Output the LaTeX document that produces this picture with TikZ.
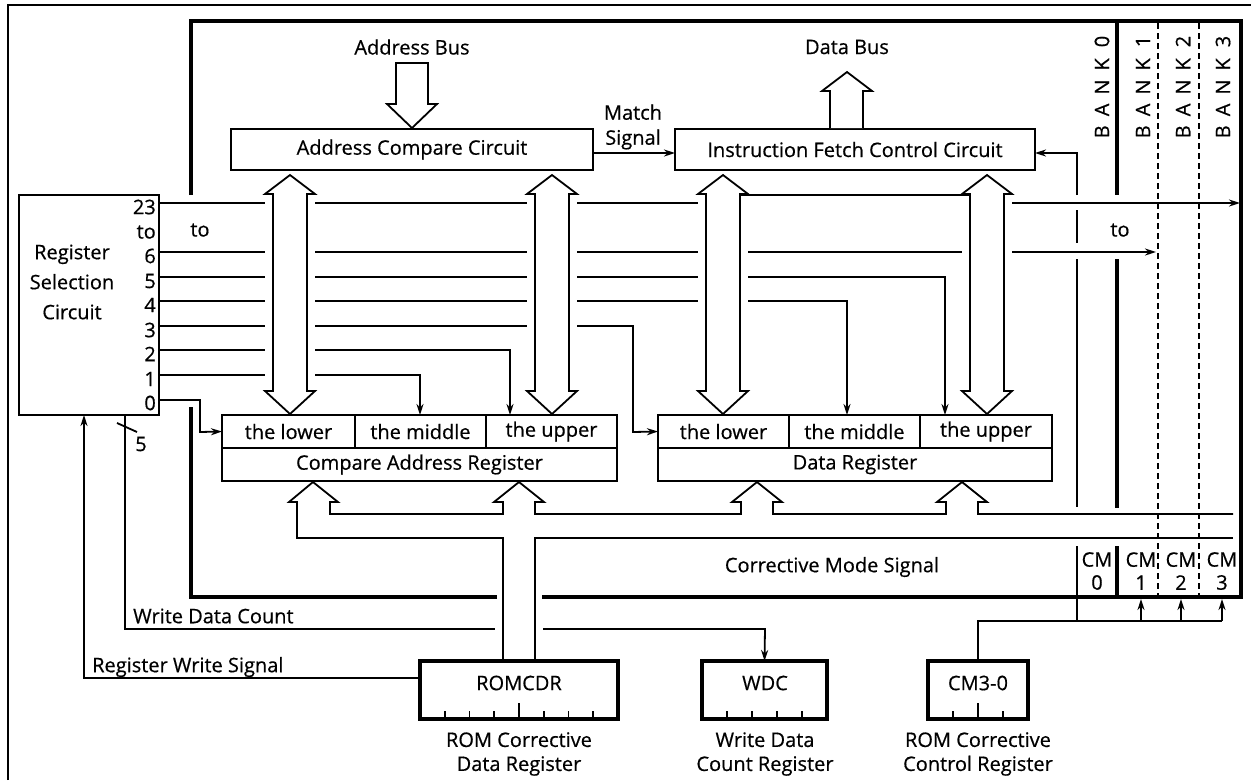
\documentclass[tikz,border=0pt]{standalone}
\usepackage{fontspec}
\setmainfont{Open Sans}[FakeBold=0.5]
\usetikzlibrary{arrows.meta}
\begin{document}
\begin{tikzpicture}[x=1pt,y=-1pt,line join=miter,
  txt/.style={font=\fontsize{20}{24}\selectfont, inner sep=0pt},
  thin/.style={line width=1.8pt},
  boxs/.style={draw, line width=1.8pt, inner sep=0pt, outer sep=0pt, font=\fontsize{20}{24}\selectfont},
  regbox/.style={draw, line width=3.8pt, inner sep=0pt, outer sep=0pt, font=\fontsize{20}{24}\selectfont},
  frame/.style={line width=4pt},
  bankline/.style={line width=3.2pt},
  dashl/.style={line width=1.5pt, dash pattern=on 6pt off 4pt},
  arr/.style={thin, -{Stealth[length=11pt,width=7pt]}},
  hollow/.style={line width=1.8pt, fill=white},
  mask/.style={fill=white, draw=none}
]
\useasboundingbox (0,0) rectangle (1251,780);
\fill[white] (0,0) rectangle (1251,780);
% outer frame
\draw[thin] (8,780) -- (8,5) -- (1251,5);
% thick inner frame
\draw[frame] (191,195) -- (191,21) -- (1241,21) -- (1241,597) -- (542,597);
\draw[frame] (497,597) -- (191,597) -- (191,407);

% boxes
\node[boxs, minimum width=140pt, minimum height=220pt, anchor=north west] (rsc) at (19,195) {};
\node[txt, align=center, font=\fontsize{20}{30}\selectfont] (rsct) at (72,282) {Register\\Selection\\Circuit};
\node[boxs, minimum width=362pt, minimum height=41pt, anchor=north west] (acc) at (231,129) {Address Compare Circuit};
\node[boxs, minimum width=360pt, minimum height=41pt, anchor=north west] (ifc) at (675,129) {Instruction Fetch Control Circuit};

% compare address register
\node[boxs, minimum width=133pt, minimum height=33pt, anchor=north west] (cal) at (222,415) {the lower};
\node[boxs, minimum width=131pt, minimum height=33pt, anchor=north west] (cam) at (355,415) {the middle};
\node[boxs, minimum width=131pt, minimum height=33pt, anchor=north west] (cau) at (486,415) {the upper};
\node[boxs, minimum width=395pt, minimum height=33pt, anchor=north west] (car) at (222,448) {Compare Address Register};
% data register
\node[boxs, minimum width=131pt, minimum height=33pt, anchor=north west] (dl) at (658,415) {the lower};
\node[boxs, minimum width=131pt, minimum height=33pt, anchor=north west] (dm) at (789,415) {the middle};
\node[boxs, minimum width=132pt, minimum height=33pt, anchor=north west] (du) at (920,415) {the upper};
\node[boxs, minimum width=394pt, minimum height=33pt, anchor=north west] (dr) at (658,448) {Data Register};

% register selection numbers
\foreach \t/\y in {23/207,to/232,6/256,5/281,4/305,3/330,2/354,1/379,0/403}
  \node[txt, anchor=east] at (156,\y) {\t};
\node[txt] (tol) at (200,230) {to};
\node[txt] (tor) at (1120,230) {to};

% selection lines
\draw[thin] (160,203) -- (698,203);
\draw[arr] (160,252) -- (1156,252);
\draw[arr] (160,277) -- (945,277) -- (du.north -| 945,0);
\draw[arr] (160,301) -- (847,301) -- (dm.north -| 847,0);
\draw[arr] (160,326) -- (633,326) -- (633,432) -- (dl.west);
\draw[arr] (160,350) -- (510,350) -- (cau.north -| 510,0);
\draw[arr] (160,375) -- (420,375) -- (cam.north -| 420,0);
\draw[arr] (160,400) -- (200,400) -- (200,432) -- (cal.west);

% double-headed hollow arrows
\foreach \cx in {290,552,723,987}{
  \fill[mask] (\cx-25,194) rectangle (\cx+25,391);
  \draw[hollow] (\cx-17,194) -- (\cx-25,194) -- (\cx,175) -- (\cx+25,194) -- (\cx+17,194)
     -- (\cx+17,391) -- (\cx+25,391) -- (\cx,414) -- (\cx-25,391) -- (\cx-17,391) -- cycle;
}
\draw[thin] (740,195) -- (970,195);
\draw[arr] (1012,203) -- (1240,203);

% address bus / data bus
\node[txt] (ab) at (412,47) {Address Bus};
\node[txt] (db) at (847,47) {Data Bus};
\draw[hollow] (396,63) -- (428,63) -- (428,104) -- (437,104) -- (412,128) -- (387,104) -- (396,104) -- cycle;
\draw[hollow] (830,128) -- (830,91) -- (822,91) -- (847,72) -- (872,91) -- (863,91) -- (863,128);

% match signal
\node[txt, align=center, font=\fontsize{20}{25}\selectfont] (ms) at (633,127) {Match\\Signal};
\draw[arr] (acc.east |- 0,153) -- (ifc.west |- 0,153);

% bank lines
\draw[arr] (1077,195) -- (1077,153) -- (ifc.east |- 0,153);
\draw[thin] (1077,210) -- (1077,243);
\draw[thin] (1077,259) -- (1077,507);
\draw[thin] (1077,546) -- (1077,621);
\draw[bankline] (1117,21) -- (1117,195);
\draw[bankline] (1117,259) -- (1117,508);
\draw[bankline] (1117,546) -- (1117,597);
\draw[dashl] (1158,23) -- (1158,595);
\draw[dashl] (1199,23) -- (1199,595);

\foreach \x/\n in {1102/0,1143/1,1183/2,1223/3}
  \node[txt, rotate=90] at (\x,87) {B\kern9pt A\kern9pt N\kern9pt K\kern11pt \n};

% lower bus
\draw[line width=1.8pt] (1233,514) -- (978,514) -- (978,502) -- (987,502) -- (962,482) -- (937,502) -- (946,502) -- (946,514)
  -- (773,514) -- (773,502) -- (782,502) -- (757,482) -- (732,502) -- (741,502) -- (741,514)
  -- (535,514) -- (535,502) -- (544,502) -- (519,482) -- (494,502) -- (503,502) -- (503,514)
  -- (330,514) -- (330,502) -- (338,502) -- (313,482) -- (289,502) -- (297,502) -- (297,538) -- (503,538) -- (503,661);
\draw[line width=1.8pt] (535,661) -- (535,538) -- (1233,538);

\node[txt] (cms) at (832,567) {Corrective Mode Signal};
\foreach \x/\n in {1097/0,1141/1,1181/2,1222/3}
  \node[txt, align=center, font=\fontsize{20}{23}\selectfont] at (\x,571) {CM\\\n};

% bottom registers
\node[regbox, minimum width=198pt, minimum height=58pt, anchor=north west] (romcdr) at (420,661) {};
\node[txt] at (519,683) {ROMCDR};
\foreach \i in {1,...,7}{
  \pgfmathsetmacro{\tx}{420+\i*24.75}
  \ifnum\i=4 \draw[thin] (\tx,703) -- (\tx,719); \else \draw[thin] (\tx,711) -- (\tx,719); \fi
}
\node[regbox, minimum width=125pt, minimum height=58pt, anchor=north west] (wdc) at (702,661) {};
\node[txt] at (765,683) {WDC};
\foreach \i in {1,...,4}{
  \pgfmathsetmacro{\tx}{702+\i*25}
  \draw[thin] (\tx,711) -- (\tx,719);
}
\node[regbox, minimum width=100pt, minimum height=58pt, anchor=north west] (cmr) at (928,661) {};
\node[txt] at (978,683) {CM3-0};
\draw[thin] (953,711) -- (953,719);
\draw[thin] (978,703) -- (978,719);
\draw[thin] (1003,711) -- (1003,719);

\node[txt, align=center, font=\fontsize{20}{24}\selectfont] at (519,754) {ROM Corrective\\Data Register};
\node[txt, align=center, font=\fontsize{20}{24}\selectfont] at (765,754) {Write Data\\Count Register};
\node[txt, align=center, font=\fontsize{20}{24}\selectfont] at (978,754) {ROM Corrective\\Control Register};

% CM control line
\draw[thin] (cmr.north) -- (978,621) -- (1222,621);
\foreach \x in {1141,1181,1222}
  \draw[arr] (\x,621) -- (\x,599);

% write data count
\draw[thin] (rsc.south -| 125,0) -- (125,629) -- (495,629);
\draw[arr] (543,629) -- (765,629) -- (wdc.north);
\node[txt, anchor=west] (wdct) at (133,616) {Write Data Count};
\draw[thin] (117,423) -- (137,432);
\node[txt] at (141,444) {5};

% register write signal
\draw[arr] (romcdr.west |- 0,678) -- (84,678) -- (rsc.south -| 84,0);
\node[txt, anchor=west] (rws) at (92,667) {Register Write Signal};
\end{tikzpicture}
\end{document}
